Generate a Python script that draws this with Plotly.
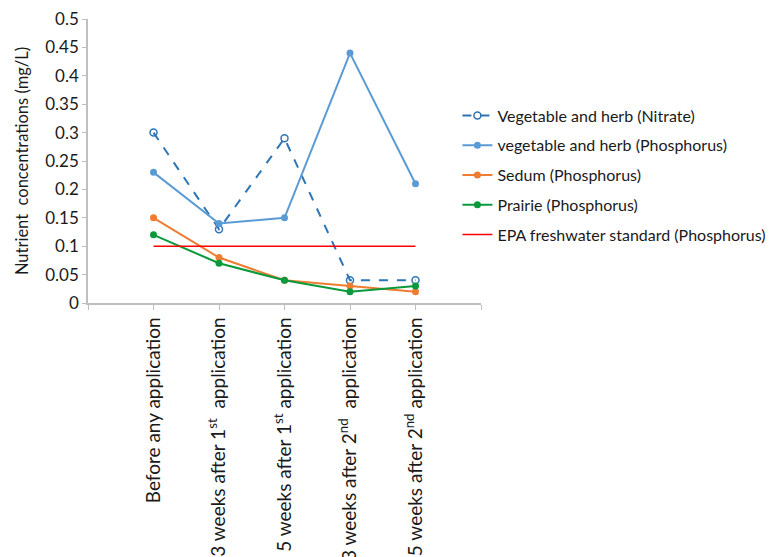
import plotly.graph_objects as go

# Sampling times (x-axis categories)
categories = [
    "Before any application",
    "3 weeks after 1<sup>st</sup>  application",
    "5 weeks after 1<sup>st</sup> application",
    "3 weeks after 2<sup>nd</sup>  application",
    "5 weeks after 2<sup>nd</sup> application",
]

# Nutrient concentrations in mg/L
veg_nitrate = [0.30, 0.13, 0.29, 0.04, 0.04]
veg_phosphorus = [0.23, 0.14, 0.15, 0.44, 0.21]
sedum_phosphorus = [0.15, 0.08, 0.04, 0.03, 0.02]
prairie_phosphorus = [0.12, 0.07, 0.04, 0.02, 0.03]
epa_standard = [0.10, 0.10, 0.10, 0.10, 0.10]

y_ticks = [0, 0.05, 0.1, 0.15, 0.2, 0.25, 0.3, 0.35, 0.4, 0.45, 0.5]

FONT = "Lato"
TEXT = "#1a1a1a"
AXIS = "#bfbfbf"

xpos = list(range(len(categories)))

fig = go.Figure()

fig.add_trace(go.Scatter(
    x=xpos, y=veg_nitrate, name="Vegetable and herb (Nitrate)",
    mode="lines+markers",
    line=dict(color="#2e75b6", width=2, dash="dash"),
    marker=dict(symbol="circle-open", size=7, color="#2e75b6", line=dict(width=1.5)),
    legendgroup="a",
))
fig.add_trace(go.Scatter(
    x=xpos, y=veg_phosphorus, name="vegetable and herb (Phosphorus)",
    mode="lines+markers",
    line=dict(color="#5b9bd5", width=2),
    marker=dict(symbol="circle", size=7, color="#5b9bd5"),
    legendgroup="b",
))
fig.add_trace(go.Scatter(
    x=xpos, y=sedum_phosphorus, name="Sedum (Phosphorus)",
    mode="lines+markers",
    line=dict(color="#ed7d31", width=2),
    marker=dict(symbol="circle", size=7, color="#ed7d31"),
    legendgroup="c",
))
fig.add_trace(go.Scatter(
    x=xpos, y=prairie_phosphorus, name="Prairie (Phosphorus)",
    mode="lines+markers",
    line=dict(color="#0a9a3c", width=2),
    marker=dict(symbol="circle", size=7, color="#0a9a3c"),
    legendgroup="d",
))
fig.add_trace(go.Scatter(
    x=xpos, y=epa_standard, name="EPA freshwater standard (Phosphorus)",
    mode="lines",
    line=dict(color="#ff0000", width=1.5),
    legendgroup="e",
))

fig.update_layout(
    width=783, height=557,
    margin=dict(l=88, r=302, t=19, b=254),
    paper_bgcolor="white", plot_bgcolor="white",
    font=dict(family=FONT, size=16, color=TEXT),
    showlegend=True,
    legend=dict(
        x=0.94, y=0.72, xanchor="left", yanchor="top",
        font=dict(family=FONT, size=16, color=TEXT),
        tracegroupgap=6, bgcolor="rgba(0,0,0,0)",
    ),
)

fig.update_xaxes(
    range=[-1, len(categories)],
    tickmode="array",
    tickvals=[-1] + xpos + [len(categories)],
    ticktext=[""] + categories + [""],
    tickangle=-90,
    ticks="outside", ticklen=5, tickcolor=AXIS, tickwidth=1,
    showline=True, linecolor=AXIS, linewidth=1.5,
    showgrid=False, zeroline=False,
    tickfont=dict(family=FONT, size=19, color=TEXT),
    automargin=False,
)

fig.update_yaxes(
    range=[0, 0.5],
    tickmode="array",
    tickvals=y_ticks,
    ticktext=[f"{v:g}" for v in y_ticks],
    ticks="outside", ticklen=4, tickcolor=AXIS, tickwidth=1,
    showline=True, linecolor=AXIS, linewidth=1.5,
    showgrid=False, zeroline=False,
    tickfont=dict(family=FONT, size=17, color=TEXT),
    title=dict(text="Nutrient  concentrations (mg/L)", font=dict(family=FONT, size=16.5, color=TEXT), standoff=12),
    automargin=False,
)

fig.write_html("out.html")
